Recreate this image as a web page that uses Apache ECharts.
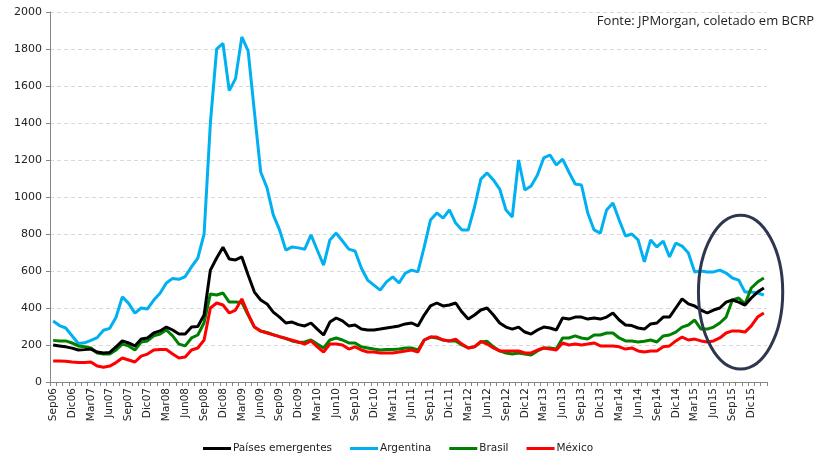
<!DOCTYPE html>
<html>
<head>
<meta charset="utf-8">
<script src="https://cdn.jsdelivr.net/npm/echarts@6/dist/echarts.min.js"></script>
<style>
html,body{margin:0;padding:0;background:#fff;}
#chart{width:831px;height:454px;}
</style>
</head>
<body>
<div id="chart"></div>
<script>
// Month names (Spanish abbreviations) and year range for categories Sep06 .. Feb16
const monthNames = ["Ene","Feb","Mar","Abr","May","Jun","Jul","Ago","Sep","Oct","Nov","Dic"];
const startYear = 2006, startMonth = 8, nMonths = 114;
const categories = [];
for (let k = 0; k < nMonths; k++) {
  const m = (startMonth + k) % 12;
  const y = startYear + Math.floor((startMonth + k) / 12);
  categories.push(monthNames[m] + String(y % 100).padStart(2, "0"));
}

const seriesNames = ["Países emergentes", "Argentina", "Brasil", "México"];

const emergentes = [
  200, 195, 190, 183, 173, 175, 178, 162, 157, 160, 190, 222,
  211, 195, 232, 238, 265, 276, 297, 281, 259, 259, 297, 300,
  362, 605, 670, 728, 665, 660, 676, 578, 486, 443, 422, 378,
  351, 319, 324, 310, 303, 319, 286, 254, 324, 346, 330, 303,
  308, 286, 281, 281, 286, 292, 297, 303, 314, 319, 303, 362,
  411, 427, 411, 416, 427, 378, 340, 362, 389, 400, 362, 319,
  297, 286, 297, 270, 259, 281, 297, 292, 281, 346, 340, 351,
  351, 340, 346, 340, 351, 373, 335, 308, 305, 292, 286, 314,
  319, 351, 351, 400, 449, 422, 411, 389, 373, 389, 400, 432,
  443, 432, 416, 454, 486, 508
];
const argentina = [
  330, 305, 292, 250, 208, 212, 225, 240, 280, 290, 350, 460,
  425, 372, 400, 395, 443, 480, 535, 560, 555, 570, 622, 670,
  800, 1400, 1800, 1830, 1575, 1640, 1865, 1790, 1460, 1135, 1050, 903,
  822, 713, 730, 725, 718, 795, 712, 632, 768, 805, 762, 718,
  708, 616, 551, 524, 497, 541, 568, 535, 589, 605, 595, 730,
  876, 914, 886, 930, 859, 822, 822, 946, 1097, 1130, 1092, 1043,
  930, 892, 1200, 1038, 1059, 1119, 1211, 1227, 1173, 1205, 1135, 1070,
  1065, 914, 822, 805, 930, 968, 876, 789, 800, 768, 649, 768,
  730, 762, 676, 751, 735, 697, 595, 600, 595, 595, 605, 589,
  562, 551, 486, 486, 481, 470
];
const brasil = [
  225, 222, 222, 211, 195, 190, 184, 157, 151, 151, 173, 205,
  195, 173, 216, 222, 249, 259, 281, 249, 205, 195, 238, 254,
  320, 476, 470, 481, 432, 432, 430, 362, 297, 276, 268, 256,
  245, 235, 222, 214, 216, 227, 205, 184, 227, 238, 227, 211,
  211, 190, 184, 178, 173, 176, 176, 178, 184, 184, 173, 227,
  243, 238, 227, 222, 222, 200, 184, 190, 216, 220, 190, 168,
  157, 151, 157, 151, 146, 168, 184, 184, 178, 238, 238, 249,
  238, 232, 254, 254, 265, 265, 238, 222, 222, 216, 220, 227,
  216, 249, 254, 270, 297, 308, 335, 286, 286, 297, 319, 351,
  443, 454, 422, 508, 540, 562
];
const mexico = [
  113, 113, 112, 108, 105, 106, 108, 86, 80, 86, 105, 130,
  119, 108, 140, 151, 173, 176, 176, 151, 130, 135, 173, 184,
  227, 400, 427, 416, 373, 389, 449, 368, 297, 275, 265, 255,
  245, 236, 226, 216, 205, 222, 190, 162, 205, 205, 200, 178,
  190, 173, 162, 162, 157, 157, 157, 162, 168, 173, 162, 227,
  243, 243, 227, 222, 232, 205, 184, 190, 220, 205, 184, 168,
  168, 168, 168, 157, 157, 173, 184, 178, 173, 211, 200, 205,
  200, 205, 211, 195, 195, 195, 190, 178, 184, 168, 162, 168,
  168, 190, 195, 222, 243, 227, 232, 222, 216, 222, 238, 265,
  276, 276, 270, 303, 351, 373
];

const yTicks = {min: 0, max: 2000, interval: 200};
const colors = ["#000000", "#00b0f0", "#008000", "#ff0000"];
const seriesData = [emergentes, argentina, brasil, mexico];

// Highlighted region (annotation ellipse), in data units
const highlight = {centerIndex: 109.3, centerValue: 486, halfMonths: 6.7, halfValue: 416};

const chart = echarts.init(document.getElementById("chart"), null, {renderer: "canvas"});
const font = "DejaVu Sans";

chart.setOption({
  animation: false,
  backgroundColor: "#ffffff",
  title: {
    text: "Fonte: JPMorgan, coletado em BCRP",
    right: 12, top: 10,
    textStyle: {fontFamily: "Open Sans", fontSize: 13, fontWeight: "normal", color: "#222"}
  },
  grid: {left: 50, right: 64, top: 12, bottom: 72},
  legend: {
    left: 198, top: 438,
    itemWidth: 28, itemHeight: 3, itemGap: 18,
    icon: "rect",
    data: seriesNames,
    textStyle: {fontFamily: font, fontSize: 10.5, color: "#222", padding: [0, 0, 0, -3]}
  },
  xAxis: {
    type: "category",
    data: categories,
    boundaryGap: true,
    axisLine: {lineStyle: {color: "#868686", width: 1}},
    axisTick: {show: true, interval: 0, length: 4, lineStyle: {color: "#868686"}},
    axisLabel: {interval: 2, rotate: 90, fontFamily: font, fontSize: 10.5, color: "#222", margin: 6}
  },
  yAxis: {
    type: "value",
    min: yTicks.min, max: yTicks.max, interval: yTicks.interval,
    axisLine: {show: true, lineStyle: {color: "#868686", width: 1}},
    axisTick: {show: true, length: 4, lineStyle: {color: "#868686"}},
    axisLabel: {fontFamily: font, fontSize: 11, color: "#222", margin: 8, formatter: v => String(v)},
    splitLine: {show: true, lineStyle: {color: "#d9d9d9", type: [4, 3], width: 1}}
  },
  series: seriesNames.map((n, i) => ({
    name: n,
    type: "line",
    data: seriesData[i],
    symbol: "none",
    smooth: false,
    z: i === 0 ? 5 : 3,
    lineStyle: {color: colors[i], width: 3},
    itemStyle: {color: colors[i]}
  }))
});

function drawEllipse() {
  const i0 = Math.floor(highlight.centerIndex);
  const p0 = chart.convertToPixel({xAxisIndex: 0}, i0);
  const p1 = chart.convertToPixel({xAxisIndex: 0}, i0 + 1);
  const step = p1 - p0;
  const cx = p0 + (highlight.centerIndex - i0) * step;
  const cy = chart.convertToPixel({yAxisIndex: 0}, highlight.centerValue);
  const cyTop = chart.convertToPixel({yAxisIndex: 0}, highlight.centerValue + highlight.halfValue);
  chart.setOption({
    graphic: [{
      type: "ellipse",
      shape: {cx: cx, cy: cy, rx: highlight.halfMonths * step, ry: cy - cyTop},
      style: {fill: "none", stroke: "#2e3650", lineWidth: 3},
      z: 10
    }]
  });
}
drawEllipse();
</script>
</body>
</html>
